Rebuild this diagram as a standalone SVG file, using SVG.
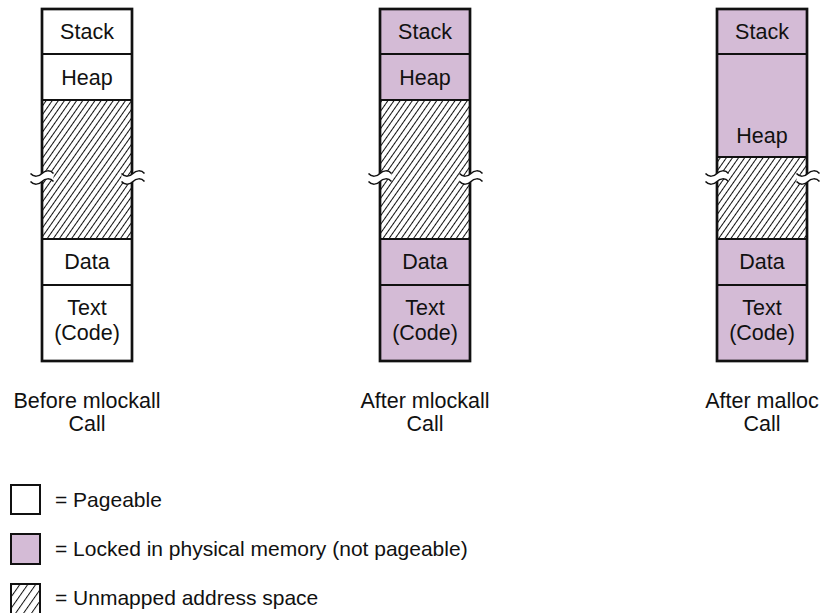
<svg xmlns="http://www.w3.org/2000/svg" xmlns:xlink="http://www.w3.org/1999/xlink" width="825" height="613" viewBox="0 0 825 613">
<defs>
<pattern id="hatch" patternUnits="userSpaceOnUse" width="5" height="5" patternTransform="rotate(35)">
<rect width="5" height="5" fill="#fff"/>
<line x1="0.5" y1="0" x2="0.5" y2="5" stroke="#111" stroke-width="1"/>
</pattern>
<pattern id="hatchL" patternUnits="userSpaceOnUse" width="6.5" height="6.5" patternTransform="rotate(35)">
<rect width="6.5" height="6.5" fill="#fff"/>
<line x1="0.5" y1="0" x2="0.5" y2="6.5" stroke="#111" stroke-width="1"/>
</pattern>
<g id="brk">
<path d="M-11.5,0 C-8,4 -3,3 0,0 C3,-3 8,-4 11.5,0 L11.5,8 C8,4 3,5 0,8 C-3,11 -8,12 -11.5,8 Z" fill="#fff" stroke="none"/>
<path d="M-11.5,0 C-8,4 -3,3 0,0 C3,-3 8,-4 11.5,0 M-11.5,8 C-8,12 -3,11 0,8 C3,5 8,4 11.5,8" class="wave"/>
</g>
<style>
.pg{fill:#fff}
.lk{fill:#d4bbd6}
.un{fill:url(#hatch)}
.div{stroke:#111;stroke-width:1.8}
.out{fill:none;stroke:#111;stroke-width:2.7}
.wave{fill:none;stroke:#111;stroke-width:1.5}
.t{font-family:"Liberation Sans",Arial,Helvetica,sans-serif;font-size:21.5px;fill:#111;text-anchor:middle}
.lg{font-family:"Liberation Sans",Arial,Helvetica,sans-serif;font-size:21px;fill:#111}
.lbox{stroke:#111;stroke-width:2}
</style>
</defs>

<g id="col-before">
<g id="before-stack"><rect class="pg" x="42" y="9" width="90" height="45"/><text class="t" x="87" y="39">Stack</text></g>
<g id="before-heap"><rect class="pg" x="42" y="54" width="90" height="46"/><text class="t" x="87" y="85">Heap</text></g>
<g id="before-unmapped"><rect class="un" x="42" y="100" width="90" height="139"/></g>
<g id="before-data"><rect class="pg" x="42" y="239" width="90" height="46"/><text class="t" x="87" y="269">Data</text></g>
<g id="before-text"><rect class="pg" x="42" y="285" width="90" height="76"/><text class="t" x="87" y="315">Text</text><text class="t" x="87" y="340">(Code)</text></g>
<line class="div" x1="42" y1="54" x2="132" y2="54"/>
<line class="div" x1="42" y1="100" x2="132" y2="100"/>
<line class="div" x1="42" y1="239" x2="132" y2="239"/>
<line class="div" x1="42" y1="285" x2="132" y2="285"/>
<rect class="out" x="42" y="9" width="90" height="352"/>
<use xlink:href="#brk" href="#brk" transform="translate(42,173.5)"/>
<use xlink:href="#brk" href="#brk" transform="translate(133,173.5)"/>
<text class="t" x="87" y="408">Before mlockall</text>
<text class="t" x="87" y="431">Call</text>
</g>

<g id="col-after-mlockall">
<g id="mlock-stack"><rect class="lk" x="380" y="9" width="90" height="45"/><text class="t" x="425" y="39">Stack</text></g>
<g id="mlock-heap"><rect class="lk" x="380" y="54" width="90" height="46"/><text class="t" x="425" y="85">Heap</text></g>
<g id="mlock-unmapped"><rect class="un" x="380" y="100" width="90" height="139"/></g>
<g id="mlock-data"><rect class="lk" x="380" y="239" width="90" height="46"/><text class="t" x="425" y="269">Data</text></g>
<g id="mlock-text"><rect class="lk" x="380" y="285" width="90" height="76"/><text class="t" x="425" y="315">Text</text><text class="t" x="425" y="340">(Code)</text></g>
<line class="div" x1="380" y1="54" x2="470" y2="54"/>
<line class="div" x1="380" y1="100" x2="470" y2="100"/>
<line class="div" x1="380" y1="239" x2="470" y2="239"/>
<line class="div" x1="380" y1="285" x2="470" y2="285"/>
<rect class="out" x="380" y="9" width="90" height="352"/>
<use xlink:href="#brk" href="#brk" transform="translate(380,173.5)"/>
<use xlink:href="#brk" href="#brk" transform="translate(471,173.5)"/>
<text class="t" x="425" y="408">After mlockall</text>
<text class="t" x="425" y="431">Call</text>
</g>

<g id="col-after-malloc">
<g id="malloc-stack"><rect class="lk" x="717" y="9" width="90" height="45"/><text class="t" x="762" y="39">Stack</text></g>
<g id="malloc-heap"><rect class="lk" x="717" y="54" width="90" height="103"/><text class="t" x="762" y="143">Heap</text></g>
<g id="malloc-unmapped"><rect class="un" x="717" y="157" width="90" height="82"/></g>
<g id="malloc-data"><rect class="lk" x="717" y="239" width="90" height="46"/><text class="t" x="762" y="269">Data</text></g>
<g id="malloc-text"><rect class="lk" x="717" y="285" width="90" height="76"/><text class="t" x="762" y="315">Text</text><text class="t" x="762" y="340">(Code)</text></g>
<line class="div" x1="717" y1="54" x2="807" y2="54"/>
<line class="div" x1="717" y1="157" x2="807" y2="157"/>
<line class="div" x1="717" y1="239" x2="807" y2="239"/>
<line class="div" x1="717" y1="285" x2="807" y2="285"/>
<rect class="out" x="717" y="9" width="90" height="352"/>
<use xlink:href="#brk" href="#brk" transform="translate(717,173.5)"/>
<use xlink:href="#brk" href="#brk" transform="translate(808,173.5)"/>
<text class="t" x="762" y="408">After malloc</text>
<text class="t" x="762" y="431">Call</text>
</g>

<g id="connectors"/>

<g id="legend">
<g id="legend-pageable"><rect class="lbox" x="11" y="485" width="29" height="29" fill="#fff"/><text class="lg" x="55" y="507">= Pageable</text></g>
<g id="legend-locked"><rect class="lbox" x="11" y="534" width="29" height="30" fill="#d4bbd6"/><text class="lg" x="55" y="556">= Locked in physical memory (not pageable)</text></g>
<g id="legend-unmapped"><rect class="lbox" x="11" y="584" width="29" height="30" fill="url(#hatchL)"/><text class="lg" x="55" y="605">= Unmapped address space</text></g>
</g>
</svg>
